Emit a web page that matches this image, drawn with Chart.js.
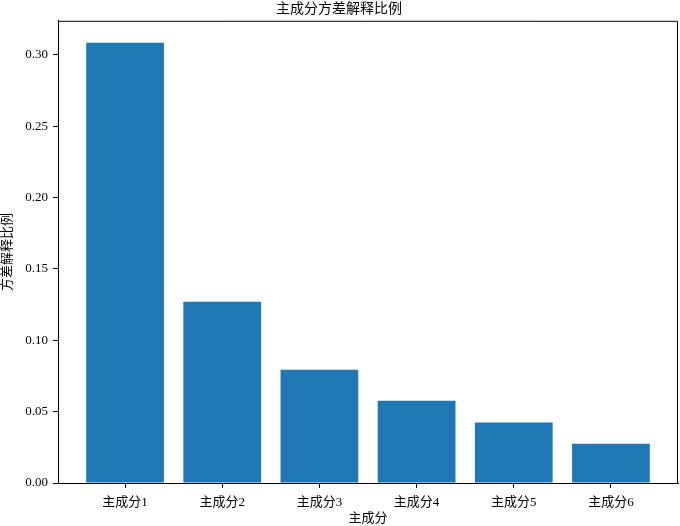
<!DOCTYPE html>
<html>
<head>
<meta charset="utf-8">
<script src="https://cdn.jsdelivr.net/npm/chart.js@4"></script>
<style>
  html, body { margin: 0; padding: 0; background: #fff; }
</style>
</head>
<body>
<canvas id="pcaChart" width="680" height="526"></canvas>
<script>
// 主成分方差解释比例
const categories = ["主成分1", "主成分2", "主成分3", "主成分4", "主成分5", "主成分6"];
const ratios = [0.3084, 0.127, 0.0794, 0.0577, 0.0423, 0.0275];
const yTicks = [0, 0.05, 0.1, 0.15, 0.2, 0.25, 0.3];

const fontFamily = "'Liberation Serif', 'Noto Sans CJK SC', serif";

// matplotlib style limits: bars span -0.4..5.4, plus 5% margin
const xMin = -0.4 - 0.05 * (categories.length - 0.2);
const xMax = categories.length - 0.6 + 0.05 * (categories.length - 0.2);
const yMax = Math.max(...ratios) * 1.05;

// draws top and right lines of the axes box
const framePlugin = {
  id: "frame",
  afterDraw(chart) {
    const { ctx, chartArea } = chart;
    ctx.save();
    ctx.strokeStyle = "#000";
    ctx.lineWidth = 1;
    ctx.beginPath();
    ctx.moveTo(chartArea.left, chartArea.top + 0.5);
    ctx.lineTo(chartArea.right - 0.5, chartArea.top + 0.5);
    ctx.lineTo(chartArea.right - 0.5, chartArea.bottom);
    ctx.stroke();
    ctx.restore();
  },
};

const ctx = document.getElementById("pcaChart").getContext("2d");

new Chart(ctx, {
  type: "bar",
  data: {
    datasets: [
      {
        data: ratios.map((v, i) => ({ x: i, y: v })),
        backgroundColor: "#1f77b4",
        borderWidth: 0,
        barPercentage: 1.0,
        categoryPercentage: 0.8,
      },
    ],
  },
  options: {
    responsive: false,
    animation: false,
    devicePixelRatio: 1,
    layout: { padding: { left: 0, right: 2, top: 0, bottom: 0 } },
    plugins: {
      legend: { display: false },
      tooltip: { enabled: false },
      title: {
        display: true,
        text: "主成分方差解释比例",
        color: "#000",
        font: { family: fontFamily, size: 14, weight: "normal", lineHeight: 1.2 },
        padding: { top: 1, bottom: 3 },
      },
    },
    scales: {
      x: {
        type: "linear",
        min: xMin,
        max: xMax,
        offset: false,
        grid: { offset: false, drawOnChartArea: false, color: "#000", tickLength: 5 },
        border: { color: "#000", width: 1 },
        afterBuildTicks: (scale) => {
          scale.ticks = categories.map((c, i) => ({ value: i }));
        },
        afterFit: (scale) => {
          scale.height = 43;
        },
        ticks: {
          color: "#000",
          padding: 7,
          maxRotation: 0,
          autoSkip: false,
          font: { family: fontFamily, size: 13 },
          callback: (value, index) => categories[index],
        },
        title: {
          display: true,
          text: "主成分",
          color: "#000",
          padding: 0,
          font: { family: fontFamily, size: 13, lineHeight: 1.2 },
        },
      },
      y: {
        min: 0,
        max: yMax,
        grid: { drawOnChartArea: false, color: "#000", tickLength: 5 },
        border: { color: "#000", width: 1 },
        afterBuildTicks: (scale) => {
          scale.ticks = yTicks.map((v) => ({ value: v }));
        },
        afterFit: (scale) => {
          scale.width = 58;
        },
        ticks: {
          color: "#000",
          padding: 5,
          font: { family: fontFamily, size: 13 },
          callback: (value) => Number(value).toFixed(2),
        },
        title: {
          display: true,
          text: "方差解释比例",
          color: "#000",
          padding: 0,
          font: { family: fontFamily, size: 13, lineHeight: 1.2 },
        },
      },
    },
  },
  plugins: [framePlugin],
});
</script>
</body>
</html>
